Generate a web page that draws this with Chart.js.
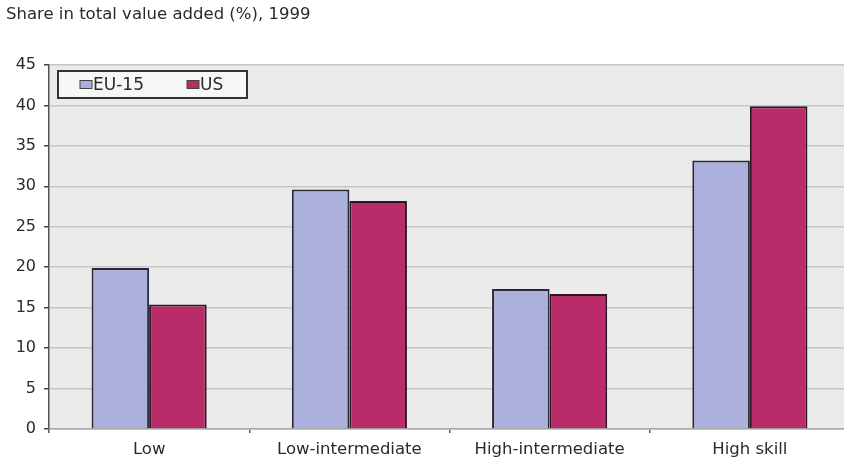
<!DOCTYPE html>
<html>
<head>
<meta charset="utf-8">
<script src="https://cdn.jsdelivr.net/npm/chart.js@4.4.1/dist/chart.umd.min.js"></script>
<style>
  html, body { margin: 0; padding: 0; background: #ffffff; overflow: hidden; }
  #wrap { width: 850px; height: 462px; position: relative; }
</style>
</head>
<body>
<div id="wrap"><canvas id="chart" width="850" height="462"></canvas></div>
<script>
// Share in total value added by skill level, 1999
const chartTitle = 'Share in total value added (%), 1999';
const categories = ['Low', 'Low-intermediate', 'High-intermediate', 'High skill'];
const seriesNames = ['EU-15', 'US'];
const eu15 = [19.9, 29.6, 17.3, 33.2];
const us = [15.4, 28.2, 16.7, 39.9];
const yTicks = [0, 5, 10, 15, 20, 25, 30, 35, 40, 45];

const FONT = 'DejaVu Sans';
const TEXT = '#2a2a2a';

// light grey plot background
const plotBackground = {
  id: 'plotBackground',
  beforeDraw(chart) {
    const { ctx, chartArea: a } = chart;
    ctx.save();
    ctx.fillStyle = '#ebebeb';
    ctx.fillRect(a.left, a.top, a.right - a.left, a.bottom - a.top);
    ctx.restore();
  }
};

// title line above the plot
const titleLine = {
  id: 'titleLine',
  afterDraw(chart) {
    const { ctx } = chart;
    ctx.save();
    ctx.font = '16.5px "' + FONT + '"';
    ctx.fillStyle = TEXT;
    ctx.textBaseline = 'middle';
    ctx.textAlign = 'left';
    ctx.fillText(chartTitle, 6, 15);
    ctx.restore();
  }
};

// boxed legend inside the plot, top left
const boxedLegend = {
  id: 'boxedLegend',
  afterDraw(chart) {
    const { ctx, chartArea: a } = chart;
    const x0 = a.left + 9, y0 = a.top + 6, w = 189, h = 27;
    ctx.save();
    ctx.fillStyle = '#f7f7f7';
    ctx.fillRect(x0, y0, w, h);
    ctx.strokeStyle = '#333333';
    ctx.lineWidth = 2;
    ctx.strokeRect(x0, y0, w, h);
    ctx.font = '17px "' + FONT + '"';
    ctx.textBaseline = 'middle';
    ctx.textAlign = 'left';
    const starts = [x0 + 22, x0 + 129];
    chart.data.datasets.forEach((ds, i) => {
      const sx = starts[i], sy = y0 + h / 2;
      ctx.fillStyle = ds.backgroundColor;
      ctx.fillRect(sx, sy - 4, 12, 8);
      ctx.strokeStyle = '#444';
      ctx.lineWidth = 1;
      ctx.strokeRect(sx, sy - 4, 12, 8);
      ctx.fillStyle = TEXT;
      ctx.fillText(ds.label, sx + 13, sy + 1);
    });
    ctx.restore();
  }
};

new Chart(document.getElementById('chart'), {
  type: 'bar',
  data: {
    labels: categories,
    datasets: [
      { label: seriesNames[0], data: eu15, backgroundColor: '#abb1dc', borderColor: '#2a2a36', borderWidth: 2 },
      { label: seriesNames[1], data: us, backgroundColor: '#b92b69', borderColor: '#2a1820', borderWidth: 2 }
    ]
  },
  options: {
    responsive: false,
    animation: false,
    devicePixelRatio: 1,
    layout: { padding: { top: 65, left: 0, right: 0, bottom: 0 } },
    datasets: { bar: { categoryPercentage: 0.575, barPercentage: 1.0 } },
    plugins: {
      legend: { display: false },
      title: { display: false },
      tooltip: { enabled: false }
    },
    scales: {
      x: {
        afterFit(s) { s.height = 33; },
        grid: { drawOnChartArea: false, offset: true, tickLength: 4, tickColor: '#555', lineWidth: 1.5 },
        border: { color: '#a8a8a8', width: 1.5 },
        ticks: { font: { family: FONT, size: 16.5 }, color: TEXT, padding: 7 }
      },
      y: {
        min: 0,
        max: 45,
        afterFit(s) { s.width = 49; },
        afterBuildTicks(s) { s.ticks = yTicks.map(v => ({ value: v })); },
        grid: { color: '#c6c6c6', lineWidth: 1.5, tickColor: '#444', tickLength: 5 },
        border: { color: '#555', width: 1.5 },
        ticks: { font: { family: FONT, size: 16 }, color: TEXT, padding: 8 }
      }
    }
  },
  plugins: [plotBackground, titleLine, boxedLegend]
});
</script>
</body>
</html>
